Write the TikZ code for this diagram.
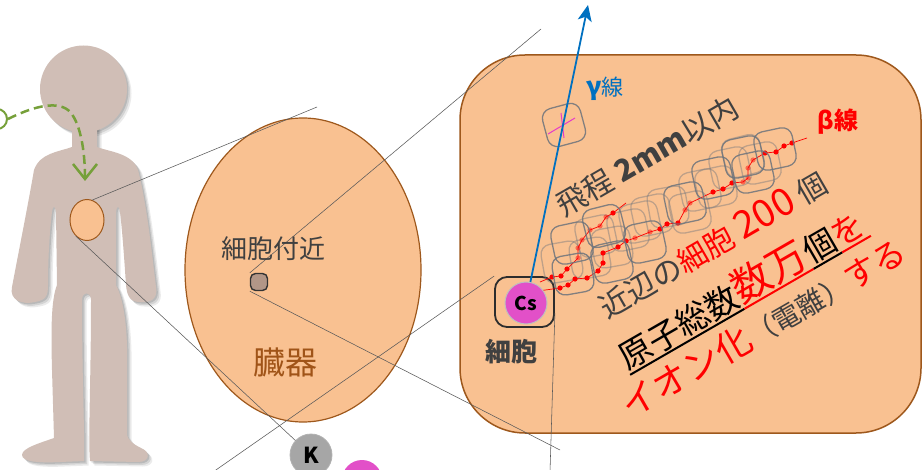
\documentclass[tikz,border=0pt]{standalone}
\usepackage{fontspec}
\newfontfamily\jp{Noto Sans CJK JP}
\usetikzlibrary{arrows.meta,shapes.geometric}
\newcommand\setfs[1]{\fontsize{#1}{#1}\selectfont}
% text with a coloured rule underneath it
\newcommand\ulinecol[2]{\setbox0=\hbox{#2}\rlap{\color{#1}\rule[-6pt]{\wd0}{2pt}}\box0}
\definecolor{skin}{RGB}{249,193,145}
\definecolor{edge}{RGB}{158,88,28}
\definecolor{organtext}{RGB}{160,84,24}
\definecolor{ink}{RGB}{64,64,64}
\definecolor{body}{RGB}{208,190,182}
\definecolor{gammablue}{RGB}{0,112,192}
\definecolor{leafgreen}{RGB}{118,160,58}
\definecolor{cesium}{RGB}{226,80,200}
\definecolor{kgray}{RGB}{166,166,166}
\definecolor{hitpink}{RGB}{230,60,200}
\definecolor{framegray}{RGB}{110,116,124}
\definecolor{spotfill}{RGB}{178,150,135}
\begin{document}
\begin{tikzpicture}[x=1pt,y=-1pt,font=\jp,
  guide/.style={draw=black!65,line width=0.55pt},
  tissue/.style={fill=skin,draw=edge,line width=1.2pt},
  cellsq/.style={draw=framegray,line width=1.3pt,rounded corners=10pt,minimum size=39pt,inner sep=0pt},
  atom/.style={circle,inner sep=0pt,font=\jp\bfseries\setfs{19}},
  linetext/.style={rotate=30,anchor=base,inner sep=0pt}]
\useasboundingbox (0,0) rectangle (923,470);

% human silhouette with a soft shadow
\foreach \d/\c/\o in {4.5/black/0.08,3/black/0.10,1.5/black/0.12,0/body/1}{
  \fill[\c,opacity=\o,shift={(\d,\d)}] (83.5,89) circle[radius=43.5pt];
  \fill[\c,opacity=\o,shift={(\d,\d)}]
    (72,126) -- (72,147)
    .. controls (58,152) and (40,153) .. (34,170)
    .. controls (28,205) and (18,255) .. (12,287)
    .. controls (9,300) and (22,305) .. (35,302)
    .. controls (46,300) and (48,296) .. (48,285)
    .. controls (48,255) and (50,228) .. (52,212)
    .. controls (53,205) and (55,205) .. (56,212)
    -- (57,285)
    .. controls (51,300) and (51,330) .. (52,370)
    -- (54,438)
    .. controls (40,443) and (22,448) .. (22,455)
    .. controls (22,462) and (40,463) .. (60,462)
    -- (84,461)
    .. controls (85,440) and (82,380) .. (82,300)
    .. controls (82,291) and (91,291) .. (91,300)
    .. controls (91,380) and (88,440) .. (90,461)
    -- (138,462)
    .. controls (150,462) and (151,452) .. (141,448)
    .. controls (133,444) and (128,440) .. (127,435)
    -- (127,370)
    .. controls (128,330) and (124,300) .. (116,285)
    -- (116,212)
    .. controls (117,205) and (119,205) .. (120,212)
    .. controls (122,228) and (124,255) .. (126,285)
    .. controls (127,296) and (130,302) .. (140,302)
    .. controls (152,303) and (158,298) .. (156,287)
    .. controls (152,255) and (147,205) .. (138,170)
    .. controls (132,153) and (110,152) .. (97,147)
    -- (97,126) -- cycle;
}

% intake marker and dashed path into the chest
\node[circle,draw=leafgreen,line width=2pt,minimum size=20pt,inner sep=0pt] (src) at (-3,119) {};
\draw[leafgreen,line width=2.5pt,dash pattern=on 9pt off 5pt,
      -{Straight Barb[length=15pt,width=24pt]}]
  (src.east) .. controls (30,108) and (55,100) .. (68,110)
             .. controls (80,120) and (85,150) .. (85,181);

% organs
\node[ellipse,tissue,line width=1pt,minimum width=34pt,minimum height=41pt,inner sep=0pt] (chest) at (87,220) {};
\node[ellipse,tissue,minimum width=236pt,minimum height=304pt,inner sep=0pt] (organ) at (303,270) {};
\node[tissue,rounded corners=65pt,minimum width=461pt,minimum height=378pt,inner sep=0pt,line width=1.5pt] (cellview) at (690.5,244) {};

% atoms at the bottom
\node[atom,fill=kgray,draw=gray!60,line width=0.8pt,minimum size=42pt,font=\jp\bfseries\setfs{22}] (k) at (311,455) {K};
\node[atom,fill=cesium,minimum size=40pt] (ion) at (362,480) {};

% cell in close-up
\node[draw=ink!70!black,line width=1.8pt,rounded corners=12pt,minimum width=59pt,minimum height=50pt,inner sep=0pt] (cellbox) at (524.5,302) {};
\node[draw=ink!80!black,line width=1.4pt,fill=spotfill,rounded corners=5pt,minimum size=17pt,inner sep=0pt] (spot) at (259,282) {};

% zoom guide lines
\coordinate (aend) at (317,107);
\coordinate (cend) at (541,29);
\coordinate (dend) at (560,450);
\coordinate (estart) at (213,472);
\coordinate (fend) at (550,472);
\draw[guide] (chest.75) -- (aend);
\draw[guide] (chest.235) -- (k);
\draw[guide] (spot.north west) -- (cend);
\draw[guide] (spot.south west) -- (dend);
\draw[guide] (estart) -- (cellbox.north west);
\draw[guide] (cellbox.-20) -- (fend);

\node[text=ink,font=\jp\setfs{26}] (neartxt) at (273,249) {細胞付近};
\node[text=organtext,font=\jp\setfs{32}] (organtxt) at (285,362) {臓器};

% cells along the beta track (back layer)
\foreach \x/\y/\r [count=\i] in {652/215/12,668/207/10,743/156/14,716/187/12,590/258/10,
                                 628/230/12,700/190/12,612/247/10,690/212/12,760/163/12,
                                 562/262/10,640/222/12,730/168/12,596/236/12}
  \node[cellsq,draw opacity=0.42,rotate=\r] (bsq\i) at (\x,\y) {};

% beta tracks
\draw[red,line width=0.7pt] (540,282) -- (552,277) -- (561,276) -- (567,269) -- (578,258)
  -- (578,248) -- (582,240) -- (590,230) -- (600,226) -- (606,217) -- (613,213) -- (626,203);
\draw[red,line width=0.7pt] (538,291) -- (560,288) -- (568,285) -- (575,279) -- (587,278)
  -- (598,271) -- (603,263) -- (603,253) -- (618,247) -- (626,241) -- (635,238) -- (650,232)
  -- (660,229) -- (667,224) -- (678,223) -- (685,210) -- (690,203) -- (713,192) -- (723,189)
  -- (732,183) -- (743,182) -- (748,178) -- (748,168) -- (753,160) -- (765,153) -- (776,152)
  -- (784,146) -- (792,143) -- (807,138);
\foreach \x/\y in {552/277,561/276,567/269,613/213,560/288,568/285,575/279,587/278,598/271,
                   603/263,603/253,618/247,626/241,660/229,667/224,678/223,713/192,723/189,
                   732/183,765/153,776/152,784/146,792/143}
  \fill[red] (\x,\y) circle[radius=2.6pt];
\foreach \x/\y in {578/258,578/248,582/240,590/230,600/226,606/217,635/238,650/232,685/210,
                   690/203,743/182,748/178,748/168,753/160}
  \fill[red,opacity=0.45] (\x,\y) circle[radius=2.6pt];

% cells along the beta track (front layer)
\foreach \x/\y/\r [count=\i] in {572/243/12,604/226/14,573/274/10,612/262/12,645/242/12,
                                 685/203/12,713/178/12,753/172/12,775/149/12,743/157/12}
  \node[cellsq,draw opacity=0.85,rotate=\r] (fsq\i) at (\x,\y) {};

% cell hit by the gamma ray
\node[cellsq,draw opacity=0.85,rotate=15] (gsq) at (564,125) {};
\draw[hitpink,line width=1pt] (548,134) -- (575,118);
\draw[hitpink,line width=1pt] (561,113) -- (564,138);

% caesium atom
\node[atom,fill=cesium,draw=gray!50,line width=1pt,minimum size=42pt] (cs) at (526,303) {Cs};
\node[text=ink,font=\jp\bfseries\setfs{26}] (celllabel) at (511,352) {細胞};

% gamma ray
\coordinate (gtip) at (588,5);
\draw[gammablue,line width=1.8pt,-{Stealth[length=16pt,width=14pt,inset=4pt]}] (cs) -- (gtip);
\node[text=gammablue,font=\jp\setfs{22}] (glabel) at (605,89) {{\bfseries\setfs{25}γ}線};
\node[text=red,font=\jp\bfseries\setfs{24}] (blabel) at (838,122) {β線};

% explanation
\node[linetext,text=ink,font=\jp\setfs{30}] (range) at (653,166) {飛程 {\bfseries 2mm}以内};
\node[linetext,text=ink,font=\jp\setfs{30}] (near) at (719,255)
  {近辺の\textcolor{red}{細胞 {\setfs{38}200}} 個};
\node[linetext,text=black,font=\jp\setfs{33}] (count) at (748,301)
  {\ulinecol{black}{原子総数}\ulinecol{red}{\textcolor{red}{\setfs{40}数万}}\ulinecol{black}{個}\ulinecol{red}{\textcolor{red}{を}}};
\node[linetext,text=ink,font=\jp\setfs{28}] (ionize) at (770,339)
  {\textcolor{red}{\setfs{36}イオン化}（電離）\textcolor{red}{\setfs{33}する}};
\end{tikzpicture}
\end{document}
